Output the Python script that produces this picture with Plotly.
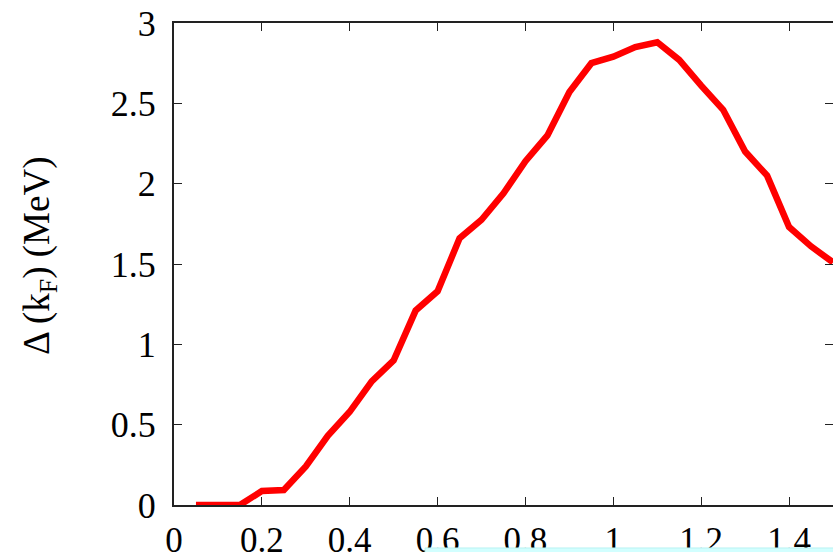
import plotly.graph_objects as go

# Data
kF = [0.05, 0.10, 0.15, 0.20, 0.25, 0.30, 0.35, 0.40, 0.45, 0.50,
      0.55, 0.60, 0.65, 0.70, 0.75, 0.80, 0.85, 0.90, 0.95, 1.00,
      1.05, 1.10, 1.15, 1.20, 1.25, 1.30, 1.35, 1.40, 1.45, 1.50]
gap = [0.00, 0.00, 0.00, 0.087, 0.093, 0.24, 0.43, 0.58, 0.77, 0.90,
       1.21, 1.33, 1.66, 1.775, 1.94, 2.14, 2.30, 2.57, 2.75, 2.79,
       2.85, 2.88, 2.77, 2.61, 2.46, 2.20, 2.05, 1.73, 1.61, 1.51]

x_ticks = [0, 0.2, 0.4, 0.6, 0.8, 1.0, 1.2, 1.4]
x_labels = ["0", "0.2", "0.4", "0.6", "0.8", "1", "1.2", "1.4"]
y_ticks = [0, 0.5, 1, 1.5, 2, 2.5, 3]
y_labels = ["0", "0.5", "1", "1.5", "2", "2.5", "3"]

FONT = "Liberation Serif, Times New Roman, serif"

fig = go.Figure()
fig.add_trace(go.Scatter(x=kF, y=gap, mode="lines",
                         line=dict(color="#ff0000", width=6.5),
                         showlegend=False, hoverinfo="skip"))
# invisible helper trace for the right-side (mirrored) ticks
fig.add_trace(go.Scatter(x=[kF[0]], y=[gap[0]], yaxis="y2", mode="lines",
                         line=dict(width=0), showlegend=False, hoverinfo="skip"))

fig.update_layout(
    width=833, height=552,
    margin=dict(l=174, r=0, t=23, b=47, autoexpand=False),
    paper_bgcolor="white", plot_bgcolor="white",
    font=dict(family=FONT, color="black", size=36),
    xaxis=dict(range=[0, 1.5], tickvals=x_ticks, ticktext=x_labels,
               ticks="inside", ticklen=8, tickwidth=1.2, tickcolor="#222",
               showline=True, linecolor="#222", linewidth=2, mirror="ticks",
               showgrid=False, zeroline=False, automargin=False,
               tickfont=dict(family=FONT, size=35, color="black"),
               ticklabelstandoff=3),
    yaxis=dict(range=[0, 3], tickvals=y_ticks, ticktext=y_labels,
               ticks="inside", ticklen=8, tickwidth=1.2, tickcolor="#222",
               showline=True, linecolor="#222", linewidth=2,
               showgrid=False, zeroline=False, automargin=False,
               tickfont=dict(family=FONT, size=36, color="black"),
               ticklabelstandoff=9),
    yaxis2=dict(range=[0, 3], overlaying="y", side="right", anchor="x",
                tickvals=y_ticks, ticks="inside", ticklen=8, tickwidth=1.2,
                tickcolor="#222", showticklabels=False, showline=False,
                showgrid=False, zeroline=False, automargin=False),
    annotations=[dict(text="Δ (k<sub>F</sub>) (MeV)", xref="paper", yref="paper",
                      x=-0.203, y=0.517, xanchor="center", yanchor="middle",
                      textangle=-90, showarrow=False,
                      font=dict(family=FONT, size=37, color="black"))],
    shapes=[dict(type="rect", xref="paper", yref="paper",
                 x0=0.381, x1=1.02, y0=-0.12, y1=-0.0892,
                 fillcolor="#d2ffff", line=dict(color="#b8f2f2", width=1),
                 layer="above")],
)

fig.write_html("out.html", config={"displayModeBar": False},
               post_script="document.body.style.margin='0';document.body.style.overflow='hidden';")
